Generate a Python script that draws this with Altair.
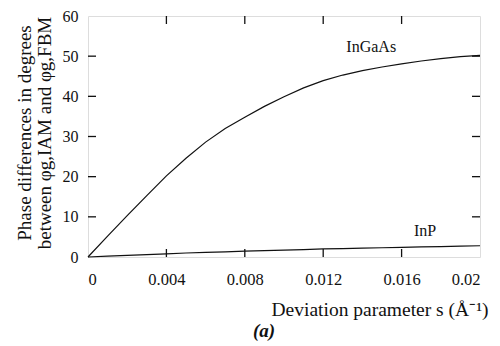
import altair as alt
import pandas as pd

s_vals = [0.0, 0.001, 0.002, 0.003, 0.004, 0.005, 0.006, 0.007, 0.008, 0.009, 0.010,
          0.011, 0.012, 0.013, 0.014, 0.015, 0.016, 0.017, 0.018, 0.019, 0.020]
ingaas = [0.0, 5.2, 10.3, 15.3, 20.2, 24.6, 28.6, 32.0, 34.8, 37.5, 39.9,
          42.1, 43.9, 45.3, 46.4, 47.3, 48.1, 48.8, 49.4, 49.9, 50.2]
inp = [0.0, 0.2, 0.4, 0.6, 0.8, 1.0, 1.15, 1.3, 1.45, 1.6, 1.7,
       1.85, 2.0, 2.1, 2.2, 2.3, 2.4, 2.5, 2.6, 2.7, 2.8]

x_ticks = [0, 0.004, 0.008, 0.012, 0.016, 0.02]
y_ticks = [0, 10, 20, 30, 40, 50, 60]
x_inner = [0.004, 0.008, 0.012, 0.016]
y_inner = [10, 20, 30, 40, 50]

label_names = ["InGaAs", "InP"]
label_s = [0.01445, 0.0172]
label_v = [52.3, 6.5]

W, H = 392, 241
FONT = "Liberation Serif"
TL = 8

df = pd.DataFrame({
    "s": s_vals * 2,
    "v": ingaas + inp,
    "series": ["InGaAs"] * len(s_vals) + ["InP"] * len(s_vals),
})
xt = pd.DataFrame({"s": x_inner})
yt = pd.DataFrame({"v": y_inner})
lab = pd.DataFrame({"name": label_names, "s": label_s, "v": label_v})

xs = alt.Scale(domain=[0, 0.02], nice=False, zero=False)
ys = alt.Scale(domain=[0, 60], nice=False)

x_axis = alt.Axis(
    values=x_ticks, ticks=False, domain=False, grid=False, labelOverlap=False,
    labelExpr="format(datum.value, '~g')",
    labelFont=FONT, labelFontSize=16.5, labelColor="#111", labelPadding=14,
    title="Deviation parameter s (Å⁻¹)",
    titleFont=FONT, titleFontSize=19.5, titleFontWeight="normal", titleColor="#111",
    titleAnchor="end", titleAlign="right", titleX=W + 8, titleY=58,
    titleBaseline="alphabetic",
)
y_axis = alt.Axis(
    values=y_ticks, ticks=False, domain=False, grid=False, labelOverlap=False,
    labelFont=FONT, labelFontSize=16, labelColor="#111", labelPadding=10,
    title=["Phase differences in degrees", "between φg,IAM and φg,FBM"],
    titleFont=FONT, titleFontSize=19, titleFontWeight="normal", titleColor="#111",
    titleAngle=270, titleX=-64, titleY=H / 2 - 4, titleAlign="center",
    titleBaseline="middle", titleLineHeight=20,
)

X = lambda f: alt.X(f, scale=xs, axis=x_axis)
Y = lambda f: alt.Y(f, scale=ys, axis=y_axis)

lines = alt.Chart(df).mark_line(color="#111", strokeWidth=1.2).encode(
    x=X("s:Q"), y=Y("v:Q"), detail="series:N",
)

left_t = alt.Chart(yt).mark_rule(color="#111", strokeWidth=1.3).encode(
    y=Y("v:Q"), x=alt.value(0), x2=alt.value(TL))
right_t = alt.Chart(yt).mark_rule(color="#111", strokeWidth=1.3).encode(
    y=Y("v:Q"), x=alt.value(W - TL), x2=alt.value(W))
bot_t = alt.Chart(xt).mark_rule(color="#111", strokeWidth=1.3).encode(
    x=X("s:Q"), y=alt.value(H - TL), y2=alt.value(H))
top_t = alt.Chart(xt).mark_rule(color="#111", strokeWidth=1.3).encode(
    x=X("s:Q"), y=alt.value(0), y2=alt.value(TL))

labels = alt.Chart(lab).mark_text(font=FONT, fontSize=16, color="#111").encode(
    x=X("s:Q"), y=Y("v:Q"), text="name:N")

panel = alt.Chart(pd.DataFrame({"t": ["(a)"]})).mark_text(
    font=FONT, fontSize=19, fontStyle="italic", fontWeight="bold", color="#111"
).encode(x=alt.value(176), y=alt.value(H + 74), text="t:N")

chart = alt.layer(lines, left_t, right_t, bot_t, top_t, labels, panel).properties(
    width=W, height=H,
    autosize=alt.AutoSizeParams(type="none"),
    padding={"left": 80, "top": 8, "right": 12, "bottom": 90},
).configure_view(stroke="#333", strokeWidth=1.2).configure(background="white")

chart.save("out.html", embed_options={"renderer": "svg", "actions": False})
